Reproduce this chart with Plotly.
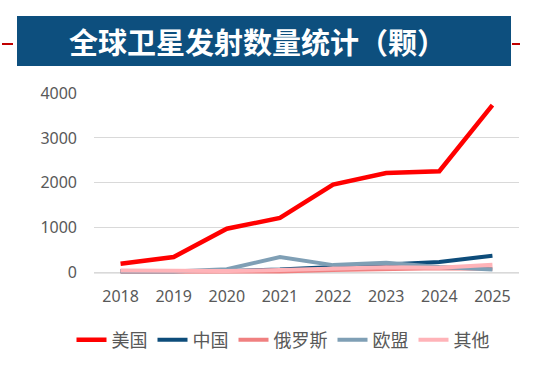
import plotly.graph_objects as go

years = ["2018", "2019", "2020", "2021", "2022", "2023", "2024", "2025"]
us = [200, 350, 980, 1220, 1960, 2220, 2260, 3730]
china = [40, 40, 40, 70, 120, 180, 240, 380]
russia = [20, 25, 20, 30, 60, 80, 100, 90]
eu = [30, 30, 80, 350, 170, 220, 130, 70]
other = [50, 40, 40, 60, 90, 120, 110, 180]

series = [
    ("美国", us, "#ff0000", 4.5),
    ("中国", china, "#0d4c7a", 4),
    ("俄罗斯", russia, "#f08080", 4),
    ("欧盟", eu, "#7f9fb5", 4),
    ("其他", other, "#ffb3b8", 4),
]

fig = go.Figure()
for name, vals, color, w in series:
    fig.add_trace(go.Scatter(x=years, y=vals, name=name, mode="lines",
                             line=dict(color=color, width=w)))

W, H = 549, 366
L, R, T, B = 94, 30, 93, 91
PW, PH = W - L - R, H - T - B


def px(x):
    return (x - L) / PW


def py(y):
    return (H - B - y) / PH


fig.update_layout(
    width=W, height=H,
    margin=dict(l=L, r=R, t=T, b=B, autoexpand=False),
    paper_bgcolor="white", plot_bgcolor="white",
    font=dict(family="Noto Sans, sans-serif", color="#595959", size=16),
    showlegend=True,
    legend=dict(orientation="h", xref="container", yref="container",
                x=(283 / W), xanchor="center", y=(H - 340) / H, yanchor="middle",
                font=dict(size=18, color="#595959", family="Noto Sans CJK SC"),
                itemwidth=30, tracegroupgap=0),
    xaxis=dict(type="category", range=[-0.5, 7.5], showgrid=False, showline=False,
               ticks="", tickfont=dict(size=16, color="#595959"), automargin=False,
               ticklabelstandoff=10),
    yaxis=dict(range=[-50, 4000], tickvals=[0, 1000, 2000, 3000, 4000],
               showgrid=True, gridcolor="#d9d9d9", gridwidth=1, zeroline=False,
               showline=False, ticks="", tickfont=dict(size=16, color="#595959"),
               automargin=False, ticklabelstandoff=16),
)
fig.add_shape(type="line", xref="paper", yref="y", x0=0, x1=1, y0=0, y1=0,
              line=dict(color="#d0d0d0", width=1.5), layer="below")
# title banner
fig.add_shape(type="line", xref="paper", yref="paper",
              x0=px(2), x1=px(13), y0=py(44), y1=py(44),
              line=dict(color="#c00000", width=2))
fig.add_shape(type="line", xref="paper", yref="paper",
              x0=px(512), x1=px(520), y0=py(44), y1=py(44),
              line=dict(color="#c00000", width=2))
fig.add_shape(type="rect", xref="paper", yref="paper",
              x0=px(17), x1=px(511), y0=py(66), y1=py(16),
              fillcolor="#0d4f7e", line=dict(width=0))
fig.add_annotation(xref="paper", yref="paper", x=px(257), y=py(41),
                   text="<b>全球卫星发射数量统计（颗）</b>", showarrow=False,
                   font=dict(size=29, color="white", family="Noto Sans CJK SC"),
                   xanchor="center", yanchor="middle")

fig.write_html("out.html", config={"displayModeBar": False},
               post_script="document.body.style.margin='0';document.body.style.overflow='hidden';")
